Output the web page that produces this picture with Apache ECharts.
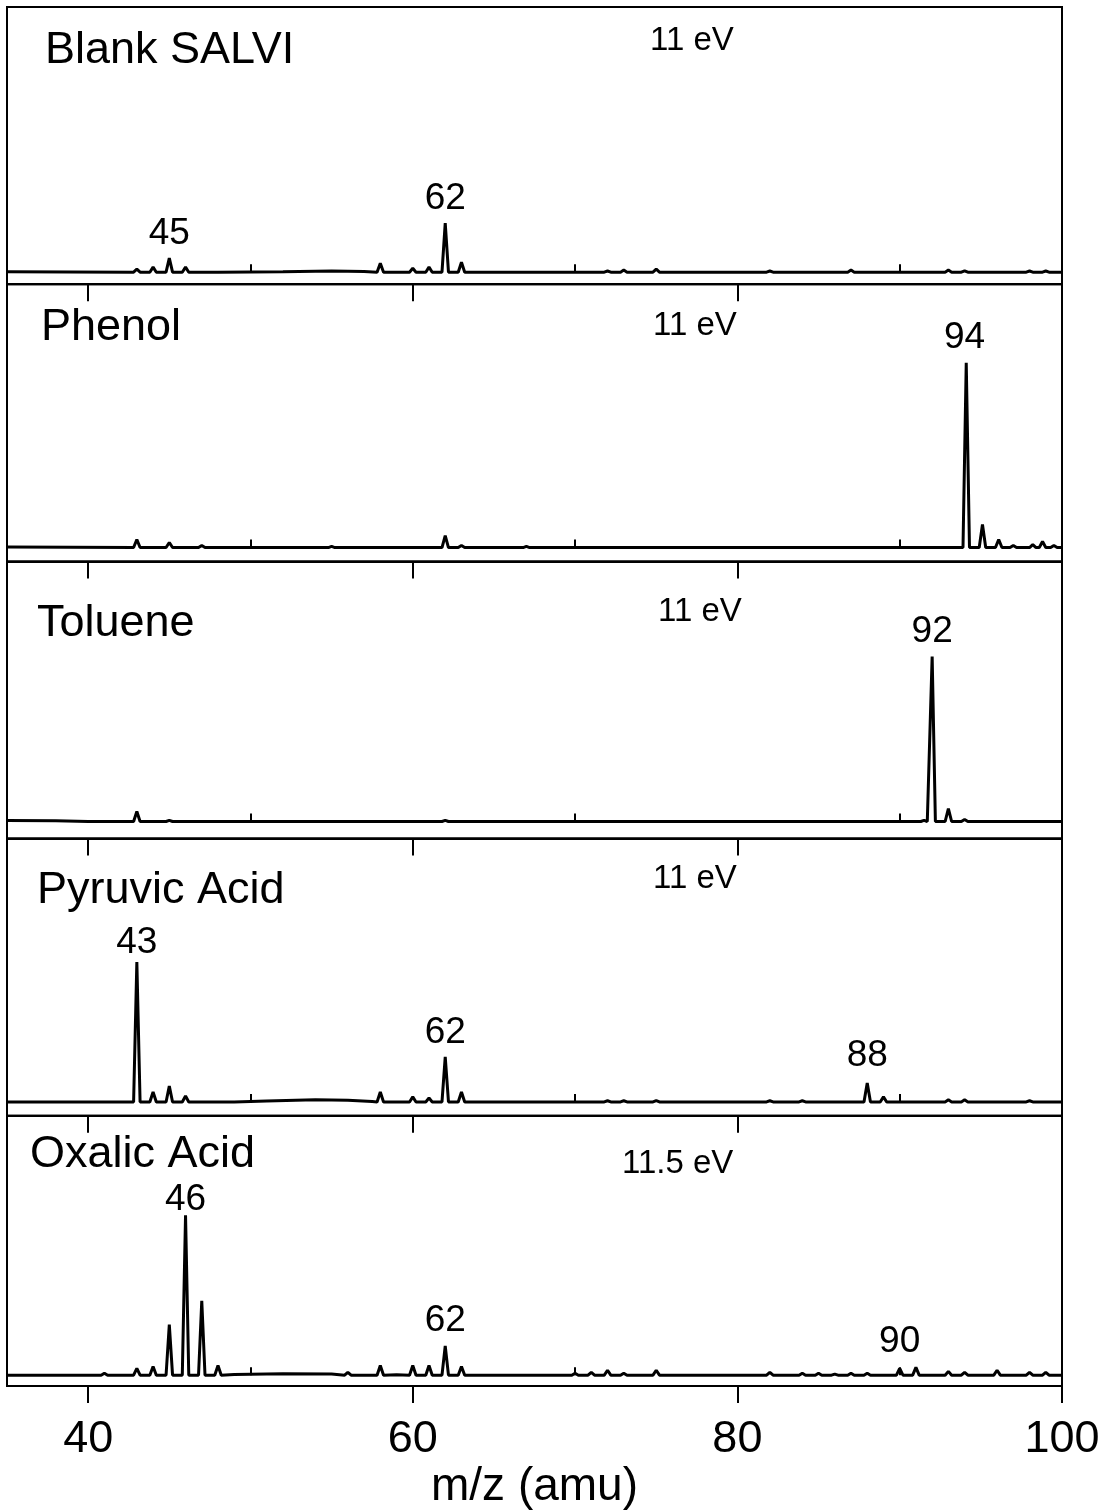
<!DOCTYPE html>
<html>
<head>
<meta charset="utf-8">
<title>SALVI mass spectra</title>
<script src="https://cdn.jsdelivr.net/npm/echarts@6/dist/echarts.min.js"></script>
<style>
  html, body { margin: 0; padding: 0; background: #fff; }
  #chart { width: 1105px; height: 1511px; }
</style>
</head>
<body>
<div id="chart"></div>
<script>
// panel texts
var panelNames = ['Blank SALVI', 'Phenol', 'Toluene', 'Pyruvic Acid', 'Oxalic Acid'];
var energyLabels = ['11 eV', '11 eV', '11 eV', '11 eV', '11.5 eV'];

// x axis
var massMin = 35, massMax = 100;
var majorTicks = [40, 60, 80, 100];
var minorTicks = [50, 70, 90];

// peaks: [m/z, intensity (a.u.)]
var blankPeaks = [[43, 1.3], [44, 2.2], [45, 6.1], [46, 2.2], [58, 3.9], [60, 1.7], [61, 2.2],
  [62, 21.2], [63, 4.3], [72, 0.5], [73, 0.9], [75, 1.3], [82, 0.5], [87, 0.9], [93, 0.9],
  [94, 0.6], [98, 0.5], [99, 0.5]];
var phenolPeaks = [[43, 3.5], [45, 2.2], [47, 0.9], [55, 0.5], [62, 5.2], [63, 0.9], [67, 0.5],
  [94.1, 80], [95.1, 10], [96.1, 3.5], [97, 0.9], [98.2, 1.3], [98.8, 2.6], [99.5, 0.9]];
var toluenePeaks = [[43, 4.3], [45, 0.5], [62, 0.5], [91.5, 0.5], [92, 71.4], [93, 5.6], [94, 0.9]];
var pyruvicPeaks = [[43, 60.6], [44, 4.3], [45, 6.9], [46, 2.6], [58, 4.3], [60, 2.2], [61, 1.7],
  [62, 19.5], [63, 4.3], [72, 0.5], [73, 0.5], [75, 0.6], [82, 0.5], [84, 0.5], [88, 8.2],
  [89, 2.2], [93, 0.9], [94, 0.9], [98, 0.5]];
var oxalicPeaks = [[41, 0.9], [43, 3], [44, 3.9], [45, 22.5], [46, 71], [47, 33], [48, 4.3],
  [56, 1.3], [58, 4.3], [60, 4.3], [61, 4.3], [62, 13], [63, 3.9], [70, 0.9], [71, 1.3],
  [72, 2.2], [73, 0.9], [75, 2.2], [82, 1.3], [84, 0.9], [85, 0.9], [86, 0.5], [87, 0.9],
  [88, 0.9], [90, 3], [91, 3.5], [93, 1.7], [94, 1.3], [96, 2.2], [98, 1.3], [99, 1.3]];

// slow baseline drift
var blankBase = [[35, 0.2], [48, 0], [52, 0.2], [55, 0.5], [57, 0.3], [59.5, 0], [100, 0]];
var phenolBase = [[35, 0.2], [60, 0], [100, 0]];
var tolueneBase = [[35, 0.4], [38, 0.3], [40, 0], [100, 0]];
var pyruvicBase = [[35, 0], [49, 0], [51, 0.4], [54, 0.9], [56, 0.7], [57.5, 0.2], [100, 0]];
var oxalicBase = [[35, 0], [49, 0.3], [52, 0.6], [55, 0.5], [59, 0.2], [100, 0]];

// peak labels: [m/z, label height (a.u.)]
var peakLabels = [
  [[45, 16.5], [62, 31.8]],
  [[94, 90.6]],
  [[92, 82.3]],
  [[43, 68.8], [62, 29.8], [88, 19.8]],
  [[46, 77.8], [62, 24.3], [90, 14.8]]
];

// y range of each panel (a.u.)
var yMins = [-5.2, -6, -7.4, -6, -4.8];
var ySpan = 120;

var allPeaks = [blankPeaks, phenolPeaks, toluenePeaks, pyruvicPeaks, oxalicPeaks];
var allBases = [blankBase, phenolBase, tolueneBase, pyruvicBase, oxalicBase];

var font = '"Liberation Sans", Arial, sans-serif';
var panelTop = 7, panelH = 277.2;

function buildTrace(peaks, base) {
  var pts = base.slice();
  var hw = 0.2;
  peaks.forEach(function (p) {
    pts.push([p[0] - hw, 0], [p[0], p[1]], [p[0] + hw, 0]);
  });
  pts.sort(function (a, b) { return a[0] - b[0]; });
  return pts;
}

var grids = [], xAxes = [], yAxes = [], series = [], graphics = [];
var titleY = [49, 326, 622, 889, 1153];
var titleX = [45, 41, 37, 37, 30];
var evX = [650, 653, 658, 653, 622];
var evY = [38, 323, 609, 876, 1161];

for (var i = 0; i < 5; i++) {
  var last = i === 4;
  grids.push({
    left: 7, right: 43,
    top: panelTop + i * panelH, height: panelH,
    show: true, borderColor: '#000', borderWidth: 2, backgroundColor: 'transparent'
  });
  // major ticks
  xAxes.push({
    type: 'value', gridIndex: i, min: massMin, max: massMax,
    axisLine: { show: true, onZero: false, lineStyle: { color: '#000', width: 2 } },
    axisTick: { show: true, inside: false, length: 17, customValues: majorTicks,
      lineStyle: { color: '#000', width: 2 } },
    axisLabel: { show: last, customValues: majorTicks, color: '#000', fontSize: 45,
      fontFamily: font, margin: 31 },
    splitLine: { show: false },
    name: last ? 'm/z (amu)' : '',
    nameLocation: 'middle', nameGap: 78,
    nameTextStyle: { color: '#000', fontSize: 46, fontFamily: font }
  });
  // minor ticks
  xAxes.push({
    type: 'value', gridIndex: i, min: massMin, max: massMax,
    axisLine: { show: false },
    axisTick: { show: true, inside: false, length: 8, customValues: minorTicks,
      lineStyle: { color: '#000', width: 2 } },
    axisLabel: { show: false, customValues: minorTicks },
    splitLine: { show: false }
  });
  yAxes.push({
    type: 'value', gridIndex: i, min: yMins[i], max: yMins[i] + ySpan, show: false
  });
  series.push({
    type: 'line', xAxisIndex: 2 * i, yAxisIndex: i,
    data: buildTrace(allPeaks[i], allBases[i]),
    showSymbol: false, symbol: 'none', animation: false,
    lineStyle: { color: '#000', width: 3 }
  });
  series.push({
    type: 'scatter', xAxisIndex: 2 * i, yAxisIndex: i,
    data: peakLabels[i], symbolSize: 0, animation: false, silent: true,
    itemStyle: { color: '#000', opacity: 1 },
    label: {
      show: true, position: 'inside', color: '#000', opacity: 1,
      fontSize: 37, fontFamily: font, textBorderWidth: 0,
      formatter: function (p) { return String(p.value[0]); }
    }
  });
  graphics.push({
    type: 'text', left: titleX[i], top: titleY[i] - 21,
    style: { text: panelNames[i], fill: '#000', font: '45px ' + font }
  });
  graphics.push({
    type: 'text', left: evX[i], top: evY[i] - 14,
    style: { text: energyLabels[i], fill: '#000', font: '33px ' + font }
  });
}

var chart = echarts.init(document.getElementById('chart'), null, { renderer: 'canvas' });
chart.setOption({
  backgroundColor: '#fff',
  animation: false,
  grid: grids,
  xAxis: xAxes,
  yAxis: yAxes,
  series: series,
  graphic: graphics
});
</script>
</body>
</html>
